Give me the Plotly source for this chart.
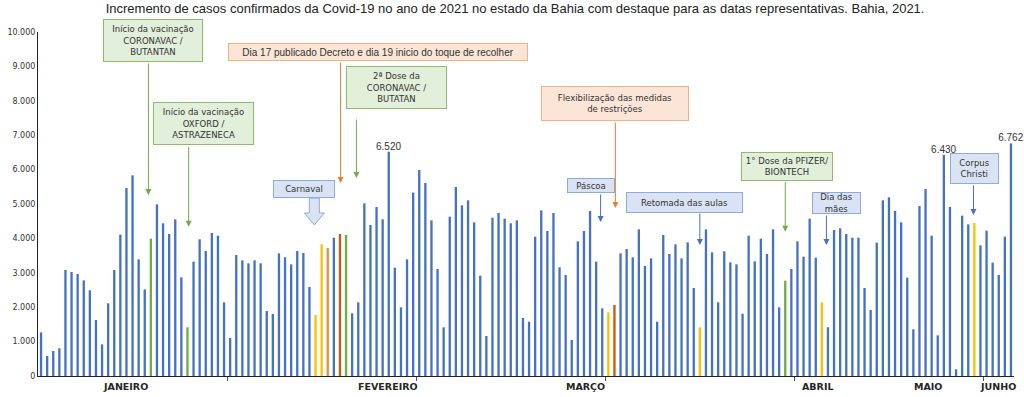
import plotly.graph_objects as go

# ---------------- data ----------------
days = list(range(160))
cases = [
    1269, 581, 727, 804, 3081, 3023, 2965, 2781, 2490, 1628, 920, 2112, 3081, 4109, 5465, 5833, 3391, 2519, 3992, 4990,
    4438, 4128, 4554, 2868, 1415, 3324, 3973, 3634, 4157, 4079, 2141, 1105, 3517, 3362, 3275, 3362, 3275, 1890, 1802, 3566,
    3450, 3246, 3634, 3576, 2587, 1773, 3828, 3721, 4021, 4128, 4099, 1822, 2141, 5019, 4390, 4913, 4554, 6520, 3149, 1996,
    3391, 5330, 5988, 5611, 4525, 3110, 1415, 4632, 5494, 4961, 5107, 4467, 2917, 1163, 4603, 4738, 4574, 4438, 4525, 1686,
    1579, 4050, 4816, 4215, 4738, 3159, 2936, 1047, 3915, 4215, 4797, 3324, 1967, 1851, 2064, 3566, 3692, 3450, 4264, 3198,
    3421, 1579, 4099, 3547, 3828, 3421, 3886, 2558, 1415, 4264, 3595, 2141, 3624, 3304, 3246, 1812, 4080, 3333, 3992, 3547,
    4264, 1996, 2771, 3110, 3915, 3469, 4574, 3440, 2141, 1415, 4244, 4293, 4128, 4021, 4021, 2558, 1919, 3876, 5107, 5194,
    4797, 4467, 2859, 1357, 4942, 5436, 4080, 1182, 6430, 4913, 194, 4661, 4409, 4448, 3798, 4225, 3295, 2936, 4050, 6762,
]
green_days = [18, 24, 50, 122]
yellow_days = [45, 46, 93, 108, 128, 153]
orange_light_days = [47]
orange_days = [49, 94]
labelled_days = [57, 148, 159]

month_names = ["JANEIRO", "FEVEREIRO", "MARÇO", "ABRIL", "MAIO", "JUNHO"]
month_label_pos = [13.8, 56.8, 89.3, 127.3, 145.4, 156.8]
month_ticks = [30.5, 61.5, 92.5, 123.5, 154.5]
y_ticks = list(range(0, 10001, 1000))

# event boxes: text, x centre (day index), y centre (value), width px, height px, kind
box_texts = [
    "Início da vacinação<br>CORONAVAC /<br>BUTANTAN",
    "Início da vacinação<br>OXFORD /<br>ASTRAZENECA",
    "Dia 17 publicado Decreto e dia 19 inicio do toque de recolher",
    "2ª Dose da<br>CORONAVAC /<br>BUTATAN",
    "Carnaval",
    "Flexibilização das medidas<br>de restrições",
    "Páscoa",
    "Retomada das aulas",
    "1° Dose da PFIZER/<br>BIONTECH",
    "Dia das<br>mães",
    "Corpus<br>Christi",
]
box_x = [18.42, 26.67, 55.3, 58.3, 43.05, 94.16, 90.14, 105.54, 122.29, 130.4, 153.04]
box_y = [9767, 7326, 9424, 8381, 5422, 7927, 5552, 5058, 6084, 5029, 6023]
box_w = [100, 101, 300, 101, 62, 148, 48, 117, 92, 49, 49]
box_h = [43, 43, 18, 43, 18, 35, 15, 21, 29, 22, 31]
box_kind = ["g", "g", "o", "g", "b", "o", "b", "b", "g", "b", "b"]

# arrows: x (day index), head value, length px, kind
arrow_x = [17.6, 24.2, 49.1, 51.7, 94.15, 91.73, 108.0, 122.0, 128.75, 152.86]
arrow_y = [5262, 4340, 5610, 5756, 4884, 4477, 3808, 4195, 3808, 4680]
arrow_len = [133, 81, 122, 60, 87, 29, 33, 51, 31, 31]
arrow_kind = ["g", "g", "o", "g", "o", "b", "b", "g", "b", "b"]

# ---------------- styling ----------------
BLUE = "#4472C4"
GREEN = "#70AD47"
YELLOW = "#FFC000"
ORANGE = "#C55A11"
ORANGE_L = "#F08A45"
fills = {"g": "#E2EFDA", "o": "#FBE5D6", "b": "#DAE3F3"}
borders = {"g": "#8FBC6A", "o": "#F4B183", "b": "#8FAADC"}
arrow_cols = {"g": "#70AD47", "o": "#ED7D31", "b": "#4472C4"}

colors = []
for d in days:
    if d in green_days:
        colors.append(GREEN)
    elif d in yellow_days:
        colors.append(YELLOW)
    elif d in orange_days:
        colors.append(ORANGE)
    elif d in orange_light_days:
        colors.append(ORANGE_L)
    else:
        colors.append(BLUE)

texts = [f"{v:,}".replace(",", ".") if d in labelled_days else "" for d, v in zip(days, cases)]

fig = go.Figure()
fig.add_trace(go.Bar(
    x=days, y=cases, marker=dict(color=colors, line=dict(width=0)),
    text=texts, textposition="outside", cliponaxis=False, constraintext="none",
    textfont=dict(family="Liberation Sans", size=10, color="#333333"),
    hoverinfo="x+y",
))

annotations = []
for t, x, y, w, h, k in zip(box_texts, box_x, box_y, box_w, box_h, box_kind):
    is_decree = "Dia 17" in t
    annotations.append(dict(
        x=x, y=y, xref="x", yref="y", text=t, showarrow=False,
        width=w - 2, height=h - 2, bgcolor=fills[k], bordercolor=borders[k], borderwidth=1,
        borderpad=0, align="center", valign="middle",
        font=dict(family="Liberation Sans" if is_decree else "DejaVu Sans",
                  size=10 if is_decree else 8.5, color="#333333"),
    ))
for x, y, L, k in zip(arrow_x, arrow_y, arrow_len, arrow_kind):
    annotations.append(dict(
        x=x, y=y, xref="x", yref="y", text="", showarrow=True, ax=0, ay=-L,
        arrowhead=2, arrowsize=1.2, arrowwidth=1, arrowcolor=arrow_cols[k], standoff=0,
    ))
for name, pos in zip(month_names, month_label_pos):
    annotations.append(dict(
        x=pos, y=-0.03, xref="x", yref="paper", text=f"<b>{name}</b>", showarrow=False,
        yanchor="middle", font=dict(family="DejaVu Sans", size=9.5, color="#262626"),
    ))

# Carnaval block arrow
cx = 44.8
fig.add_shape(
    type="path", xref="x", yref="y",
    path=(f"M {cx-0.82},5170 L {cx+0.82},5170 L {cx+0.82},4740 L {cx+1.64},4740 "
          f"L {cx},4390 L {cx-1.64},4740 L {cx-0.82},4740 Z"),
    fillcolor="#DAE3F3", line=dict(color="#8FAADC", width=1),
)

fig.update_layout(
    width=1024, height=397,
    margin=dict(l=38, r=10, t=32, b=21, autoexpand=False),
    paper_bgcolor="white", plot_bgcolor="white",
    separators=",.",
    bargap=0.62,
    showlegend=False,
    title=dict(
        text="Incremento de casos confirmados da Covid-19 no ano de 2021 no estado da Bahia com destaque para as datas representativas. Bahia, 2021.",
        x=0.503, xanchor="center", y=0.978, yanchor="middle",
        font=dict(family="Liberation Sans", size=13, color="#222222"),
    ),
    xaxis=dict(
        range=[-0.5, 159.5], showgrid=False, zeroline=False, automargin=False,
        showline=True, linecolor="#222222", linewidth=1,
        tickmode="array", tickvals=month_ticks, ticktext=[""] * len(month_ticks),
        ticks="outside", ticklen=4, tickcolor="#555555",
    ),
    yaxis=dict(
        range=[0, 10000], showgrid=False, zeroline=False, automargin=False,
        showline=True, linecolor="#222222", linewidth=1,
        tickmode="array", tickvals=y_ticks, tickformat=",d", ticks="",
        tickfont=dict(family="DejaVu Sans", size=8, color="#333333"),
    ),
    annotations=annotations,
)

fig.write_html("out.html", config={"displayModeBar": False},
               post_script="document.body.style.margin='0';")
